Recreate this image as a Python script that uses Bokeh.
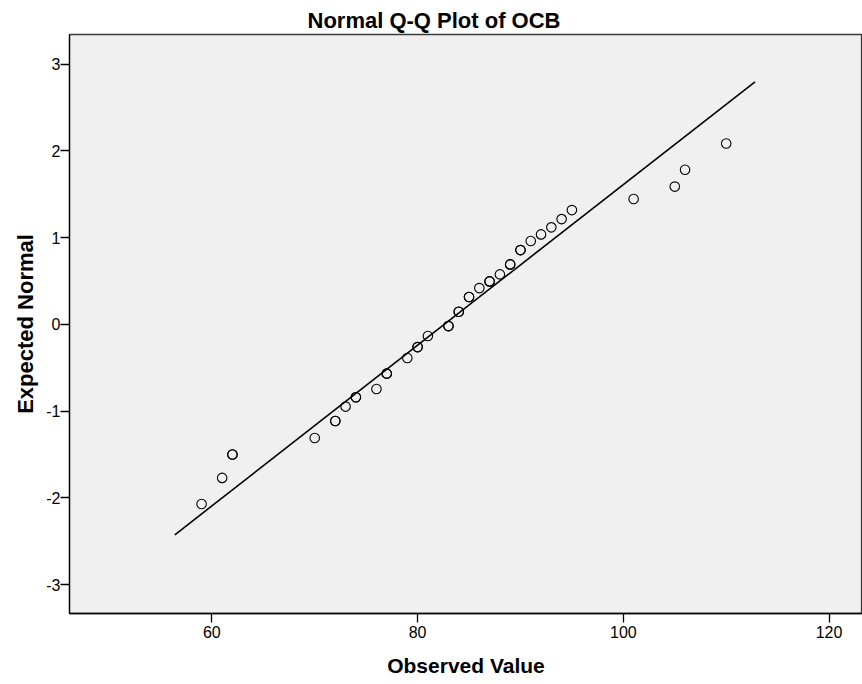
from bokeh.plotting import figure
from bokeh.models import FixedTicker, Range1d
from bokeh.embed import file_html
from bokeh.resources import INLINE

# Observed values (distinct) with their expected normal scores, and tie counts
observed = [59, 61, 62, 70, 72, 73, 74, 76, 77, 79, 80, 81, 83, 84, 85, 86, 87, 88,
            89, 90, 91, 92, 93, 94, 95, 101, 105, 106, 110]
expected = [-2.07, -1.77, -1.50, -1.31, -1.114, -0.948, -0.841, -0.745, -0.568, -0.388,
            -0.262, -0.135, -0.02, 0.146, 0.315, 0.418, 0.495, 0.576, 0.691, 0.856,
            0.96, 1.037, 1.118, 1.213, 1.317, 1.444, 1.588, 1.782, 2.085]
ties = [1, 1, 2, 1, 2, 1, 2, 1, 2, 1, 2, 1, 2, 2, 2, 1, 2, 1, 2, 2, 1, 1, 1, 1, 1, 1, 1, 1, 1]

# reference line parameters (mean and standard deviation) and its x extent
line_mean = 82.6
line_sd = 10.8
line_x = [56.4, 112.8]

x_ticks = [60, 80, 100, 120]
y_ticks = [-3, -2, -1, 0, 1, 2, 3]
y_tick_labels = ["-3", "-2", "-1", "0", "1", "2", "3"]

xs, ys = [], []
for o, e, t in zip(observed, expected, ties):
    for _ in range(t):
        xs.append(o)
        ys.append(e)

line_y = [(x - line_mean) / line_sd for x in line_x]

p = figure(width=862, height=684, output_backend="svg", toolbar_location=None,
           x_range=Range1d(46.16, 123.25), y_range=Range1d(-3.333, 3.341),
           min_border_left=69, min_border_right=0, min_border_top=34, min_border_bottom=71)

p.title.text = "Normal Q-Q Plot of OCB"
p.title.text_font = "Liberation Sans"
p.title.text_font_size = "22px"
p.title.text_font_style = "bold"
p.title.text_color = "black"
p.title.align = "left"
p.title.offset = 238
p.title.standoff = 4

p.background_fill_color = "#F0F0F0"
p.border_fill_color = "white"
p.outline_line_color = "#3a3a3a"
p.outline_line_width = 1.3
p.grid.visible = False

p.line(line_x, line_y, line_color="black", line_width=1.6)
p.scatter(xs, ys, marker="circle", size=9.5, fill_color=None,
          line_color="black", line_width=1.1)

p.xaxis.ticker = FixedTicker(ticks=x_ticks)
p.yaxis.ticker = FixedTicker(ticks=y_ticks)
p.yaxis.major_label_overrides = {t: s for t, s in zip(y_ticks, y_tick_labels)}
p.xaxis.axis_label = "Observed Value"
p.yaxis.axis_label = "Expected Normal"

for ax in (p.xaxis[0], p.yaxis[0]):
    ax.axis_line_color = "black"
    ax.axis_line_width = 1.3
    ax.major_tick_line_color = "black"
    ax.major_tick_line_width = 1.3
    ax.major_tick_out = 9
    ax.major_tick_in = 0
    ax.minor_tick_out = 0
    ax.minor_tick_in = 0
    ax.major_label_text_font = "Liberation Sans"
    ax.major_label_text_font_size = "16px"
    ax.major_label_text_color = "black"
    ax.axis_label_text_font = "Liberation Sans"
    ax.axis_label_text_font_style = "bold"
    ax.axis_label_text_color = "black"

p.xaxis.major_label_standoff = 3
p.xaxis.axis_label_standoff = 13
p.xaxis.axis_label_text_font_size = "21px"
p.yaxis.major_label_standoff = 0
p.yaxis.axis_label_standoff = 5
p.yaxis.axis_label_text_font_size = "22px"

open("out.html", "w").write(file_html(p, INLINE))
